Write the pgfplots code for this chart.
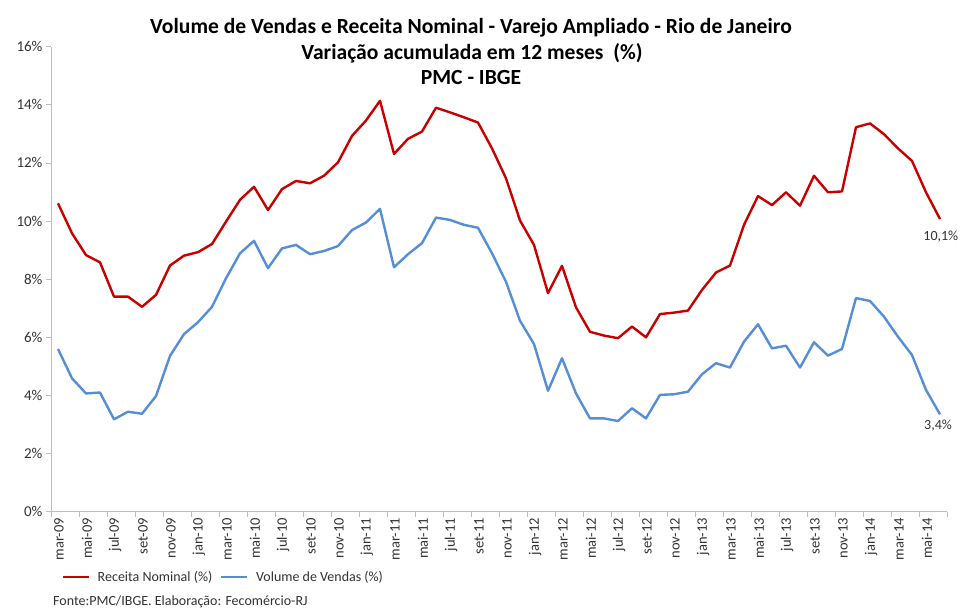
\documentclass[border=0pt]{standalone}
\usepackage{pgfplots}
\pgfplotsset{compat=1.18}
\usepackage{fontspec}
\setmainfont{Carlito}
\definecolor{redline}{RGB}{200,0,0}
\definecolor{blueline}{RGB}{85,142,213}
\definecolor{axisgray}{RGB}{190,190,190}
\definecolor{txt}{RGB}{50,50,50}
\pgfplotstableread{
i rec vol
0 10.61 5.60
1 9.58 4.59
2 8.83 4.07
3 8.58 4.10
4 7.40 3.18
5 7.40 3.44
6 7.05 3.37
7 7.46 3.98
8 8.47 5.36
9 8.81 6.11
10 8.93 6.52
11 9.21 7.05
12 9.98 8.03
13 10.73 8.89
14 11.18 9.32
15 10.38 8.38
16 11.10 9.06
17 11.38 9.18
18 11.30 8.86
19 11.56 8.97
20 12.02 9.14
21 12.93 9.69
22 13.46 9.95
23 14.14 10.42
24 12.31 8.41
25 12.83 8.86
26 13.08 9.24
27 13.90 10.12
28 13.74 10.04
29 13.57 9.87
30 13.39 9.77
31 12.50 8.89
32 11.47 7.91
33 10.02 6.57
34 9.18 5.77
35 7.52 4.16
36 8.46 5.28
37 7.03 4.07
38 6.19 3.21
39 6.06 3.21
40 5.97 3.12
41 6.37 3.56
42 6.00 3.21
43 6.80 4.02
44 6.85 4.04
45 6.92 4.13
46 7.63 4.73
47 8.23 5.11
48 8.47 4.96
49 9.87 5.85
50 10.86 6.45
51 10.55 5.62
52 10.99 5.71
53 10.53 4.96
54 11.56 5.83
55 10.99 5.37
56 11.02 5.60
57 13.23 7.35
58 13.36 7.25
59 12.99 6.71
60 12.50 6.02
61 12.07 5.39
62 10.99 4.19
63 10.07 3.35
}\datatable
\begin{document}
\begin{tikzpicture}[x=1pt,y=1pt]
\path[use as bounding box] (0,0) rectangle (961,608);
\begin{axis}[
  at={(51pt,96.3pt)}, anchor=south west,
  scale only axis, width=896pt, height=465pt,
  xmin=-0.5, xmax=63.5, ymin=0, ymax=16,
  axis lines=left, axis line style={draw=axisgray, line width=0.8pt, -},
  xtick={0,2,...,62},
  xticklabels={mar-09,mai-09,jul-09,set-09,nov-09,jan-10,mar-10,mai-10,jul-10,set-10,nov-10,jan-11,mar-11,mai-11,jul-11,set-11,nov-11,jan-12,mar-12,mai-12,jul-12,set-12,nov-12,jan-13,mar-13,mai-13,jul-13,set-13,nov-13,jan-14,mar-14,mai-14},
  major x tick style={draw=none},
  minor xtick={-0.5,1.5,...,63.5},
  minor tick length=5pt,
  tick align=outside,
  tick style={draw=axisgray, line width=0.8pt},
  major tick length=5pt,
  ytick={0,2,...,16},
  yticklabel={\pgfmathprintnumber{\tick}\%},
  xticklabel style={rotate=90, anchor=east, font=\fontsize{14.5}{16}\selectfont, text=txt, inner sep=1pt, yshift=-1pt},
  yticklabel style={font=\fontsize{15}{16}\selectfont, text=txt},
  /pgf/number format/assume math mode=true,
  legend style={at={(0.012,-0.1404)}, anchor=west, draw=none, fill=none, legend columns=2,
    font=\fontsize{14}{16}\selectfont, text=txt, column sep=6pt, inner sep=0pt},
  legend image code/.code={\draw[#1, line width=1.8pt] (0pt,0pt) -- (26pt,0pt);},
  clip=false,
]
\addplot[redline, line width=2.4pt, line join=round] table[x=i, y=rec] {\datatable};
\addlegendentry{Receita Nominal (\%)}
\addplot[blueline, line width=2.4pt, line join=round] table[x=i, y=vol] {\datatable};
\addlegendentry{Volume de Vendas (\%)}
\node[anchor=west, font=\fontsize{14}{16}\selectfont, text=txt, inner sep=0pt] at (axis cs:61.8,9.46) {10,1\%};
\node[anchor=west, font=\fontsize{14}{16}\selectfont, text=txt, inner sep=0pt] at (axis cs:61.86,2.95) {3,4\%};
\end{axis}
\begin{scope}[every node/.style={anchor=base, font=\fontsize{21.6}{26}\selectfont\bfseries, inner sep=0pt}]
\node at (471,574.7) {Volume de Vendas e Receita Nominal - Varejo Ampliado - Rio de Janeiro};
\node at (472,548.7) {Variação acumulada em 12 meses~~(\%)};
\node at (471,523) {PMC - IBGE};
\end{scope}
\node[anchor=west, font=\fontsize{14}{16}\selectfont, text=txt, inner sep=0pt] at (53,6) {Fonte:PMC/IBGE. Elaboração: Fecomércio-RJ};
\end{tikzpicture}
\end{document}
